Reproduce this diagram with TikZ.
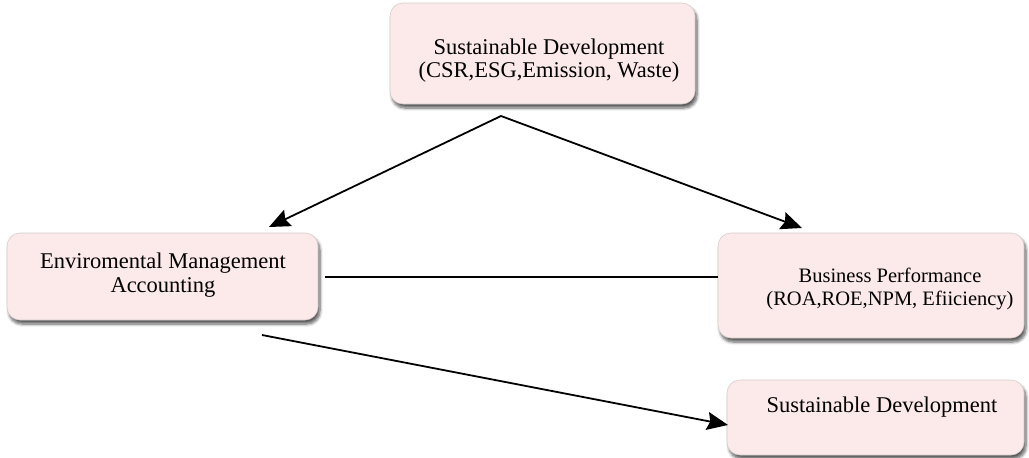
\documentclass[tikz,border=0pt]{standalone}
\usepackage{fontspec}
\setmainfont{Liberation Serif}
\usetikzlibrary{shadows.blur,arrows.meta}
\definecolor{boxpink}{RGB}{252,233,233}
\definecolor{boxedge}{RGB}{215,205,205}
\tikzset{
  pinkbox/.style={draw=boxedge, line width=0.6pt, fill=boxpink, rounded corners=13pt,
    blur shadow={shadow xshift=2pt, shadow yshift=-4pt, shadow blur steps=6, shadow opacity=65, shadow blur radius=3pt},
    inner sep=0pt},
  lbl/.style={font=\fontsize{22.5}{23.5}\selectfont, align=center, inner sep=0pt},
  conn/.style={line width=1.8pt, draw=black},
  arr/.style={conn, -{Stealth[length=21pt,width=18pt,inset=3pt]}}
}
\begin{document}
\begin{tikzpicture}[x=1pt,y=-1pt]
\useasboundingbox (0,0) rectangle (1029,458);
% boxes
\node[pinkbox, minimum width=305pt, minimum height=101pt] (top) at (542.5,53.5) {};
\node[pinkbox, minimum width=311pt, minimum height=87pt] (left) at (162.5,276.5) {};
\node[pinkbox, minimum width=306pt, minimum height=105pt] (right) at (871,285.5) {};
\node[pinkbox, minimum width=297pt, minimum height=75pt] (bot) at (875.5,417.5) {};
% texts
\node[lbl, font=\fontsize{22.5}{23}\selectfont] (toptxt) at (549,61) {Sustainable Development\\(CSR,ESG,Emission, Waste)};
\node[lbl] (lefttxt) at (163,275) {Enviromental Management\\Accounting};
\node[lbl, font=\fontsize{20.5}{22.5}\selectfont] (righttxt) at (890,289) {Business Performance\\(ROA,ROE,NPM, Efiiciency)};
\node[lbl] (bottxt) at (882,407) {Sustainable Development};
% connector points
\coordinate (apex) at (501,116);
\coordinate (ltip) at (269,227);
\coordinate (rtip) at (802,228);
\coordinate (mstart) at (325,277);
\coordinate (mend) at (718,277);
\coordinate (bstart) at (262,335);
\coordinate (btip) at (728,425);
\draw[arr] (apex) -- (ltip);
\draw[arr] (apex) -- (rtip);
\draw[conn] (mstart) -- (mend);
\draw[arr] (bstart) -- (btip);
\end{tikzpicture}
\end{document}
